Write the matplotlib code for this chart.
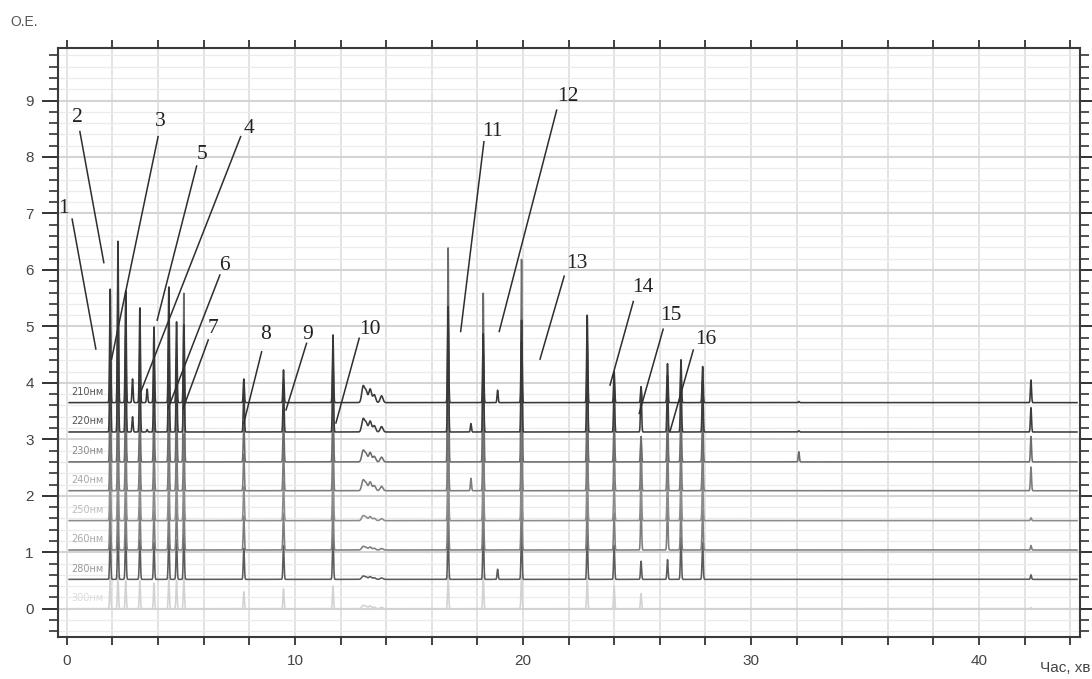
import numpy as np
import matplotlib.pyplot as plt
from matplotlib.ticker import MultipleLocator

# wavelength channels, top to bottom
wavelengths = ['210нм', '220нм', '230нм', '240нм', '250нм', '260нм', '280нм', '300нм']
baselines = [3.65, 3.13, 2.60, 2.09, 1.56, 1.04, 0.52, 0.00]
line_colors = ['#383838', '#3c3c3c', '#6c6c6c', '#7c7c7c', '#8c8c8c', '#7e7e7e', '#5c5c5c', '#d2d2d2']
label_colors = ['#555555', '#555555', '#8a8a8a', '#a8a8a8', '#bdbdbd', '#ababab', '#999999', '#dddddd']

# retention times of peaks, min
peak_times = [1.90, 2.24, 2.58, 2.88, 3.20, 3.52, 3.82, 4.47, 4.81, 5.13,
              7.76, 9.50, 11.67, 16.72, 17.72, 18.26, 18.89, 19.94,
              22.82, 24.00, 25.18, 26.34, 26.93, 27.88, 32.10, 42.28]

# peak heights above each channel baseline
h_210 = [2.01, 2.86, 1.98, 0.42, 1.68, 0.24, 1.34, 2.05, 1.43, 1.38,
         0.42, 0.58, 1.20, 1.70, 0.00, 1.22, 0.22, 1.46,
         1.55, 0.55, 0.28, 0.69, 0.76, 0.64, 0.02, 0.40]
h_220 = [1.80, 2.40, 1.70, 0.27, 1.40, 0.04, 1.20, 1.80, 1.30, 1.20,
         0.75, 0.85, 1.30, 1.90, 0.15, 1.40, 0.00, 1.60,
         1.60, 0.90, 0.80, 1.00, 1.05, 0.90, 0.02, 0.43]
h_230 = [1.30, 1.60, 1.20, 0.00, 1.00, 0.00, 0.90, 1.30, 1.00, 2.99,
         0.70, 0.80, 1.20, 3.79, 0.00, 2.99, 0.00, 3.59,
         1.40, 0.80, 0.45, 0.90, 0.95, 0.85, 0.18, 0.45]
h_240 = [1.00, 1.20, 1.00, 0.00, 0.90, 0.00, 0.80, 1.00, 0.90, 1.00,
         0.65, 0.75, 1.10, 1.50, 0.22, 1.30, 0.00, 1.40,
         1.20, 0.75, 0.90, 0.85, 0.90, 0.80, 0.00, 0.42]
h_250 = [0.90, 1.00, 0.90, 0.00, 0.80, 0.00, 0.75, 0.90, 0.80, 0.90,
         0.60, 0.70, 1.00, 1.30, 0.00, 1.10, 0.00, 1.20,
         1.00, 0.70, 0.85, 0.80, 0.85, 0.75, 0.00, 0.05]
h_260 = [0.85, 0.95, 0.85, 0.00, 0.75, 0.00, 0.70, 0.85, 0.75, 0.85,
         0.60, 0.65, 0.90, 1.10, 0.00, 1.00, 0.00, 1.00,
         0.90, 0.65, 0.80, 0.75, 0.80, 0.70, 0.00, 0.08]
h_280 = [0.80, 0.90, 0.80, 0.00, 0.70, 0.00, 0.65, 0.80, 0.70, 0.80,
         0.55, 0.60, 0.80, 0.90, 0.00, 0.90, 0.18, 0.90,
         0.80, 0.60, 0.32, 0.35, 0.75, 0.65, 0.00, 0.08]
h_300 = [0.55, 0.60, 0.50, 0.00, 0.50, 0.00, 0.45, 0.55, 0.50, 0.55,
         0.30, 0.35, 0.40, 0.60, 0.00, 0.60, 0.00, 0.60,
         0.55, 0.40, 0.27, 0.00, 0.00, 0.00, 0.00, 0.02]
peak_heights = [h_210, h_220, h_230, h_240, h_250, h_260, h_280, h_300]

# broad unresolved hump around 13 min
hump_times = [12.99, 13.12, 13.30, 13.48, 13.80]
hump_heights = [0.28, 0.20, 0.24, 0.14, 0.12]
hump_scale = [1.0, 0.8, 0.7, 0.65, 0.3, 0.22, 0.2, 0.2]

# numbered peak labels: text position, leader line start and end (min, O.E.)
peak_labels = ['1', '2', '3', '4', '5', '6', '7', '8', '9', '10',
               '11', '12', '13', '14', '15', '16']
label_xy = [(-0.16, 7.09), (0.45, 8.70), (4.11, 8.62), (8.00, 8.51), (5.94, 8.04),
            (6.93, 6.08), (6.42, 4.97), (8.71, 4.85), (10.54, 4.85), (13.29, 4.95),
            (18.67, 8.45), (21.96, 9.08), (22.35, 6.12), (25.25, 5.68), (26.48, 5.19),
            (28.03, 4.76)]
leader_start = [(0.23, 6.90), (0.57, 8.45), (4.00, 8.36), (7.62, 8.36), (5.69, 7.84),
                (6.71, 5.91), (6.20, 4.76), (8.54, 4.55), (10.51, 4.70), (12.82, 4.79),
                (18.29, 8.27), (21.48, 8.83), (21.81, 5.89), (24.84, 5.44), (26.15, 4.95),
                (27.47, 4.58)]
leader_end = [(1.27, 4.60), (1.62, 6.13), (1.96, 4.42), (3.25, 3.85), (3.96, 5.11),
              (4.44, 3.55), (5.10, 3.55), (7.76, 3.29), (9.61, 3.52), (11.80, 3.29),
              (17.27, 4.91), (18.96, 4.91), (20.75, 4.42), (23.82, 3.96), (25.10, 3.46),
              (26.45, 3.14)]

t = np.arange(0.1, 44.3, 0.003)
peak_sigma = 0.024
hump_sigma = 0.06

fig = plt.figure(figsize=(10.92, 6.79), dpi=100)
ax = fig.add_axes([0.0531, 0.0619, 0.9359, 0.8674])

for i in range(len(wavelengths)):
    y = np.full_like(t, baselines[i])
    for tp, h in zip(peak_times, peak_heights[i]):
        if h > 0:
            y += h * np.exp(-0.5 * ((t - tp) / peak_sigma) ** 2)
    for tp, h in zip(hump_times, hump_heights):
        y += h * hump_scale[i] * np.exp(-0.5 * ((t - tp) / hump_sigma) ** 2)
    # darker channels drawn last so they sit on top
    ax.plot(t, y, color=line_colors[i], lw=1.15, zorder=20 - i)
    ax.text(0.2, baselines[i] + 0.1, wavelengths[i], fontsize=7,
            color=label_colors[i], va='bottom', ha='left', zorder=30)

for lab, (tx, ty), (x0, y0), (x1, y1) in zip(peak_labels, label_xy, leader_start, leader_end):
    ax.plot([x0, x1], [y0, y1], color='#2e2e2e', lw=1.1, zorder=40)
    ax.text(tx, ty, lab, fontsize=15.5, family='Liberation Serif', color='#222222',
            ha='center', va='center', zorder=41)

ax.set_xlim(-0.39, 44.43)
ax.set_ylim(-0.50, 9.93)

ax.xaxis.set_major_locator(MultipleLocator(10))
ax.xaxis.set_minor_locator(MultipleLocator(2))
ax.yaxis.set_major_locator(MultipleLocator(1))
ax.yaxis.set_minor_locator(MultipleLocator(0.2))

ax.set_axisbelow(True)
ax.grid(which='both', axis='x', color='#e0e0e0', lw=1.3)
ax.grid(which='major', axis='y', color='#d4d4d4', lw=1.5)
ax.grid(which='minor', axis='y', color='#ebebeb', lw=0.9)

tick_font = ['Liberation Sans Narrow', 'Liberation Sans', 'DejaVu Sans']
ax.tick_params(axis='x', which='both', direction='out', top=True, bottom=True,
               length=6, width=1.3, color='#333333', labelsize=11,
               labelcolor='#444444', pad=6)
ax.tick_params(axis='y', which='major', direction='out', left=True, right=True,
               length=11.5, width=1.4, color='#333333', labelsize=11,
               labelcolor='#444444', pad=6)
ax.tick_params(axis='y', which='minor', direction='out', left=True, right=True,
               length=6.5, width=1.2, color='#333333')
for lbl in ax.get_xticklabels() + ax.get_yticklabels():
    lbl.set_family(tick_font)

for sp in ax.spines.values():
    sp.set_color('#3a3a3a')
    sp.set_linewidth(1.5)

fig.text(10 / 1092, 1 - 22 / 679, 'O.E.', fontsize=10, color='#555555',
         family=tick_font, va='center', ha='left')
fig.text(1040 / 1092, 1 - 668 / 679, 'Час, хв', fontsize=11, color='#444444',
         family=tick_font, va='center', ha='left')

fig.savefig('out.png', dpi=100)
